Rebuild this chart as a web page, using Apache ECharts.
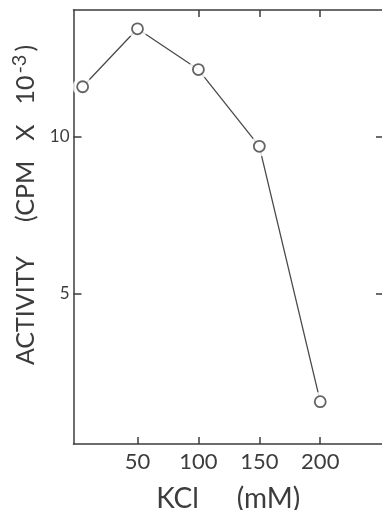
<!DOCTYPE html>
<html>
<head>
<meta charset="utf-8">
<script src="https://cdn.jsdelivr.net/npm/echarts@6/dist/echarts.min.js"></script>
<style>
html,body{margin:0;padding:0;background:#fff;}
#chart{width:382px;height:510px;}
</style>
</head>
<body>
<div id="chart"></div>
<script>
// Data
var kclMM = [5, 50, 100, 150, 200];
var activity = [11.6, 13.45, 12.15, 9.7, 1.55];
var xTickValues = [50, 100, 150, 200];
var xTopTickValues = [100, 150, 200];
var yTickValues = [5, 10];

var points = kclMM.map(function (x, i) { return [x, activity[i]]; });

var ink = '#3c3c3c';
var font = 'Lato';

var chart = echarts.init(document.getElementById('chart'), null, {renderer: 'canvas'});
chart.setOption({
  backgroundColor: '#ffffff',
  animation: false,
  grid: {left: 73.5, top: 10, width: 309.5, height: 434, containLabel: false, outerBoundsMode: 'none'},
  xAxis: [{
    type: 'value', position: 'bottom', min: -2.5, max: 251.5,
    name: '{a|KCl}{g| }{a|(mM)}', nameLocation: 'middle', nameGap: 41,
    nameTextStyle: {
      color: ink,
      rich: {
        a: {fontFamily: font, fontSize: 28, color: ink},
        g: {fontFamily: font, fontSize: 28, width: 38}
      }
    },
    axisLine: {show: true, onZero: false, lineStyle: {color: ink, width: 1.5}},
    axisTick: {show: true, inside: true, length: 7, customValues: xTickValues, lineStyle: {color: ink, width: 1.5}},
    axisLabel: {show: true, customValues: xTickValues, fontFamily: font, fontSize: 22, color: ink, margin: 7},
    splitLine: {show: false}
  }, {
    type: 'value', position: 'top', min: -2.5, max: 251.5,
    axisLine: {show: true, onZero: false, lineStyle: {color: ink, width: 1.5}},
    axisTick: {show: true, inside: true, length: 7, customValues: xTopTickValues, lineStyle: {color: ink, width: 1.5}},
    axisLabel: {show: false},
    splitLine: {show: false}
  }],
  yAxis: [{
    type: 'value', position: 'left', min: 0.2, max: 14.05,
    name: '{a|ACTIVITY}{g1| }{a|(CPM}{g2| }{a|X}{g2| }{a|10}{s|-3}{a|)}',
    nameLocation: 'middle', nameRotate: 90, nameGap: 21,
    nameTextStyle: {
      color: ink, padding: [0, 0, 0, 44],
      rich: {
        a: {fontFamily: font, fontSize: 25, color: ink},
        g1: {fontFamily: font, fontSize: 25, width: 34},
        g2: {fontFamily: font, fontSize: 25, width: 20},
        s: {fontFamily: font, fontSize: 20, color: ink, padding: [0, 3, 14, 2]}
      }
    },
    axisLine: {show: true, onZero: false, lineStyle: {color: ink, width: 1.5}},
    axisTick: {show: true, inside: true, length: 8, customValues: yTickValues, lineStyle: {color: ink, width: 1.5}},
    axisLabel: {show: true, customValues: yTickValues, fontFamily: font, fontSize: 17, color: ink, margin: 4},
    splitLine: {show: false}
  }, {
    type: 'value', position: 'right', min: 0.2, max: 14.05,
    axisLine: {show: true, onZero: false, lineStyle: {color: ink, width: 1.5}},
    axisTick: {show: true, inside: true, length: 7, customValues: yTickValues, lineStyle: {color: ink, width: 1.5}},
    axisLabel: {show: false},
    splitLine: {show: false}
  }],
  series: [{
    type: 'line', data: points, symbol: 'none', z: 2,
    lineStyle: {color: '#4a4a4a', width: 1.3}
  }, {
    type: 'scatter', data: points, symbol: 'circle', symbolSize: 20, z: 3,
    itemStyle: {color: '#ffffff', borderWidth: 0}, silent: true
  }, {
    type: 'scatter', data: points, symbol: 'circle', symbolSize: 11, z: 4,
    itemStyle: {color: '#ffffff', borderColor: ink, borderWidth: 1.8}
  }]
});
</script>
</body>
</html>
